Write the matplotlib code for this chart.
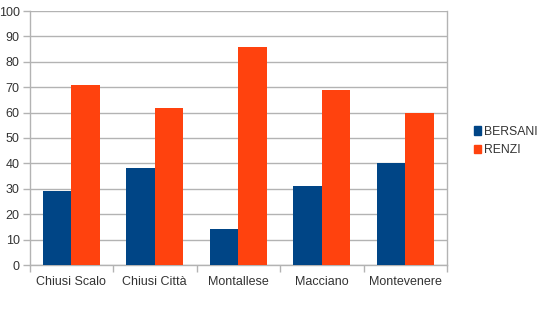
import matplotlib
matplotlib.use("Agg")
import matplotlib.pyplot as plt
import numpy as np
from matplotlib.patches import Patch

plt.rcParams['font.family'] = ['Liberation Sans', 'DejaVu Sans']

categories = ["Chiusi Scalo", "Chiusi Città", "Montallese", "Macciano", "Montevenere"]
bersani = [29, 38, 14, 31, 40]
renzi = [71, 62, 86, 69, 60]
yticks = list(range(0, 101, 10))

blue = "#004586"
orange = "#ff420e"
grid = "#b3b3b3"
txt = "#333333"

fig = plt.figure(figsize=(5.4, 3.09), dpi=100)
ax = fig.add_axes([29.5 / 540, 44 / 309, (447 - 29.5) / 540, 254 / 309])

x = np.arange(len(categories))
w = 0.34
ax.bar(x - w / 2, bersani, w, color=blue, zorder=3)
ax.bar(x + w / 2, renzi, w, color=orange, zorder=3)

ax.set_xlim(-0.5, len(categories) - 0.5)
ax.set_ylim(0, 100)
ax.set_yticks(yticks)
ax.yaxis.grid(True, color=grid, linewidth=1, zorder=0)
ax.set_axisbelow(True)

ax.set_xticks(x)
ax.set_xticklabels(categories, fontsize=9, color=txt)
ax.set_xticks(np.arange(-0.5, len(categories)), minor=True)
ax.tick_params(axis='x', which='major', length=0, pad=8)
ax.tick_params(axis='x', which='minor', length=5, color=grid, width=1)
ax.tick_params(axis='y', length=5, color=grid, width=1, labelsize=9, labelcolor=txt, pad=2)

for s in ['left', 'right', 'bottom']:
    ax.spines[s].set_color(grid)
    ax.spines[s].set_linewidth(1)
ax.spines['top'].set_visible(False)

handles = [Patch(color=blue, label="BERSANI"), Patch(color=orange, label="RENZI")]
fig.legend(handles=handles, loc='center left', bbox_to_anchor=(463 / 540, 1 - 141 / 309),
           frameon=False, fontsize=8.8, handlelength=0.6, handleheight=0.7,
           handletextpad=0.2, labelspacing=0.5, labelcolor=txt)

fig.savefig("out.png", dpi=100)
